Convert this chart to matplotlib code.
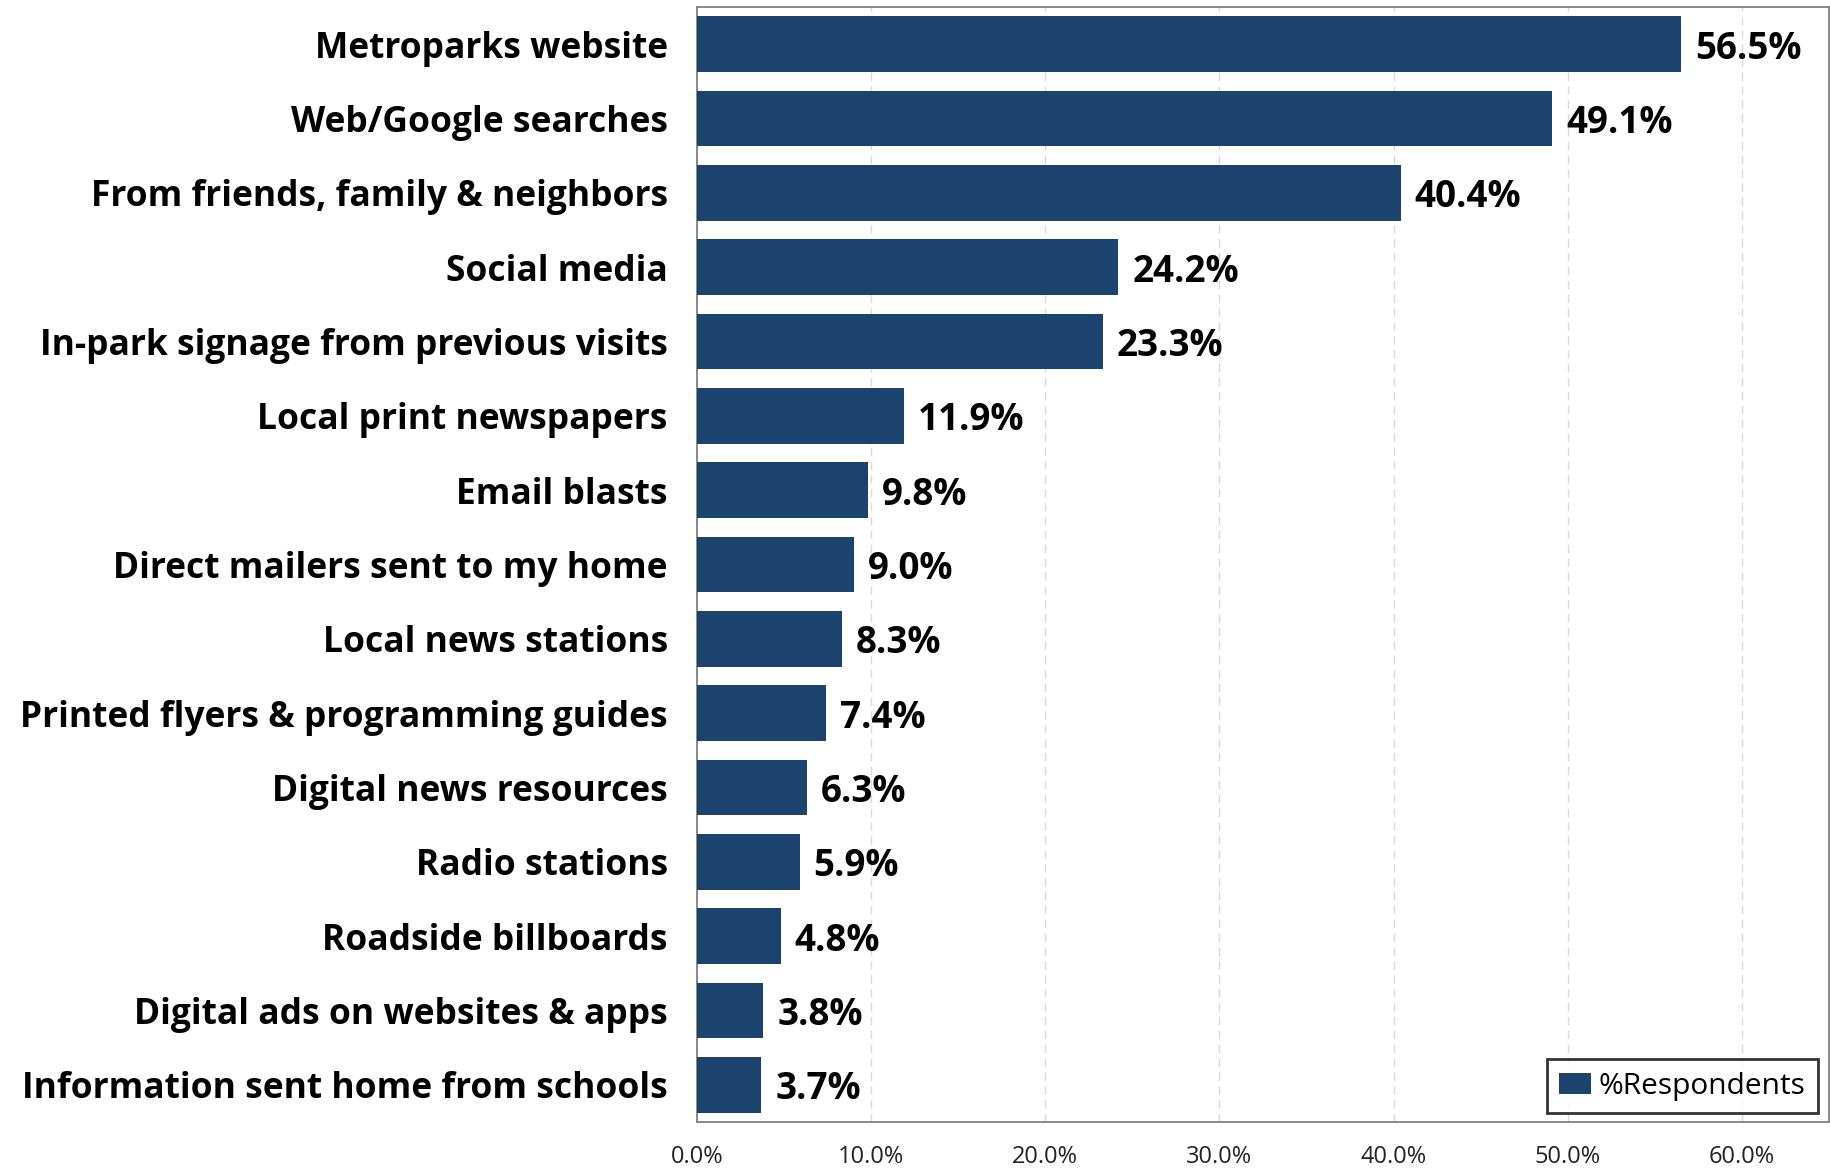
import matplotlib
matplotlib.use("Agg")
import matplotlib.pyplot as plt
from matplotlib.ticker import FuncFormatter

categories = [
    "Metroparks website",
    "Web/Google searches",
    "From friends, family & neighbors",
    "Social media",
    "In-park signage from previous visits",
    "Local print newspapers",
    "Email blasts",
    "Direct mailers sent to my home",
    "Local news stations",
    "Printed flyers & programming guides",
    "Digital news resources",
    "Radio stations",
    "Roadside billboards",
    "Digital ads on websites & apps",
    "Information sent home from schools",
]
respondents = [56.5, 49.1, 40.4, 24.2, 23.3, 11.9, 9.8, 9.0, 8.3, 7.4, 6.3, 5.9, 4.8, 3.8, 3.7]
x_ticks = [0, 10, 20, 30, 40, 50, 60]

bar_color = "#1b436e"
plt.rcParams['font.family'] = ['Open Sans', 'DejaVu Sans']

fig = plt.figure(figsize=(18.31, 11.68), dpi=100)
ax = fig.add_axes([697 / 1831, 1 - 1122 / 1168, (1829 - 697) / 1831, (1122 - 7) / 1168])

ypos = list(range(len(categories)))
ax.barh(ypos, respondents, height=0.75, color=bar_color, label="%Respondents", zorder=3)
for y, v in zip(ypos, respondents):
    ax.text(v + 0.8, y, f"{v:.1f}%", va="center_baseline", ha="left",
            fontsize=26.5, fontweight="bold", color="black", zorder=4)

ax.set_ylim(len(categories) - 0.5, -0.5)
ax.set_xlim(0, 65)
ax.set_yticks(ypos)
ax.set_yticklabels(categories, fontsize=25.5, fontweight="bold", va="center_baseline")
ax.set_xticks(x_ticks)
ax.xaxis.set_major_formatter(FuncFormatter(lambda v, p: f"{v:.1f}%"))
ax.tick_params(axis="x", labelsize=17, length=0, pad=16.5, labelcolor="#222222")
ax.tick_params(axis="y", length=0, pad=21)

ax.grid(axis="x", linestyle=(0, (6, 4)), color="#d9d9d9", linewidth=1, zorder=0)
for s in ax.spines.values():
    s.set_color("#808080")
    s.set_linewidth(1.3)

leg = ax.legend(loc="lower right", fontsize=21.5, frameon=True, fancybox=False,
                borderpad=0.42, borderaxespad=0, handlelength=1.05, handleheight=0.7,
                handletextpad=0.25, bbox_to_anchor=(0.990, 0.008))
leg.get_frame().set_edgecolor("black")
leg.get_frame().set_linewidth(2)

fig.savefig("out.png", dpi=100)
